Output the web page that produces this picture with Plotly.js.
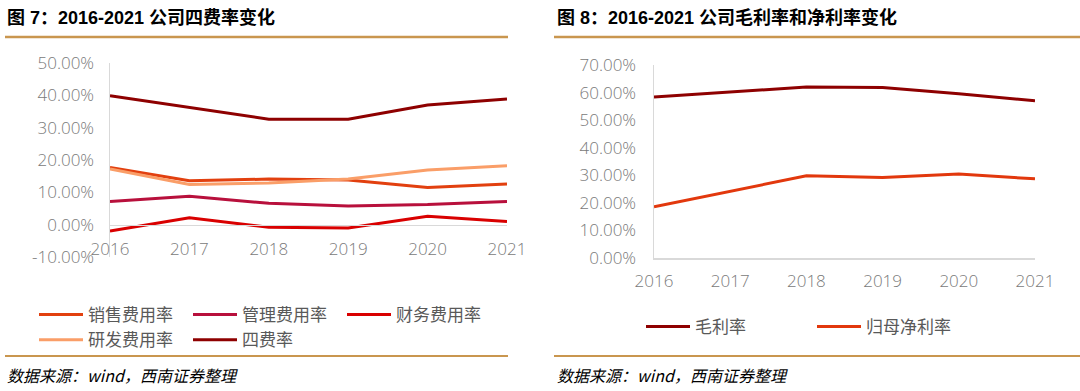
<!DOCTYPE html>
<html>
<head>
<meta charset="utf-8">
<script src="https://cdn.plot.ly/plotly-3.0.1.min.js"></script>
<style>
  html, body { margin: 0; padding: 0; background: #ffffff; }
  #wrap { position: relative; width: 1080px; height: 391px; overflow: hidden; }
  #left { position: absolute; left: 0; top: 0; width: 540px; height: 391px; }
  #right { position: absolute; left: 540px; top: 0; width: 540px; height: 391px; }
</style>
</head>
<body>
<div id="wrap"><div id="left"></div><div id="right"></div></div>
<script>
// ---------- data ----------
const years = ['2016', '2017', '2018', '2019', '2020', '2021'];
const salesRate = [17.7, 13.6, 14.1, 13.8, 11.5, 12.6];   // 销售费用率 (%)
const adminRate = [7.2, 8.8, 6.6, 5.8, 6.2, 7.2];         // 管理费用率 (%)
const financeRate = [-2.0, 2.1, -0.8, -1.0, 2.6, 1.0];    // 财务费用率 (%)
const rdRate = [17.2, 12.4, 12.9, 14.1, 16.9, 18.2];      // 研发费用率 (%)
const totalRate = [39.9, 36.3, 32.6, 32.6, 37.0, 38.9];   // 四费率 (%)
const grossMargin = [58.4, 60.3, 62.0, 61.8, 59.6, 57.0]; // 毛利率 (%)
const netMargin = [18.6, 24.3, 29.8, 29.2, 30.5, 28.7];   // 归母净利率 (%)

const leftTickVals = [-10, 0, 10, 20, 30, 40, 50];
const leftTickText = ['-10.00%', '0.00%', '10.00%', '20.00%', '30.00%', '40.00%', '50.00%'];

const leftNames = ['销售费用率', '管理费用率', '财务费用率', '研发费用率', '四费率'];
const rightNames = ['毛利率', '归母净利率'];
const leftTitle = '图 7：2016-2021 公司四费率变化';
const rightTitle = '图 8：2016-2021 公司毛利率和净利率变化';
const sourceText = '数据来源：wind，西南证券整理';

// ---------- styling ----------
const W = 540, H = 391;
const GOLD = '#C9964F';
const TICKGRAY = '#7a7a7a';
const AXISGRAY = '#d9d9d9';
const tickFont = { family: '"Open Sans", "Noto Sans", sans-serif', weight: 300, color: TICKGRAY, size: 17 };
const cjkFont = '"Noto Sans CJK SC", sans-serif';
const titleFont = { family: '"Liberation Sans", Arial, "Noto Sans CJK SC", sans-serif', size: 18, color: '#000000', weight: 'bold' };

function px2x(px, m) { return (px - m.l) / (W - m.l - m.r); }
function px2y(py, m) { return (H - m.b - py) / (H - m.t - m.b); }

function frame(m, titleText, titleX, lineX0, lineX1) {
  return {
    title: { text: titleText, font: titleFont, x: titleX / W, xanchor: 'left', y: 1 - 18 / H, yanchor: 'middle' },
    shapes: [
      { type: 'line', xref: 'paper', yref: 'paper', x0: px2x(lineX0, m), x1: px2x(lineX1, m), y0: px2y(37, m), y1: px2y(37, m), line: { color: GOLD, width: 2.5 } },
      { type: 'line', xref: 'paper', yref: 'paper', x0: px2x(lineX0, m), x1: px2x(lineX1, m), y0: px2y(356, m), y1: px2y(356, m), line: { color: GOLD, width: 2 } }
    ],
    annotations: [
      { text: sourceText, xref: 'paper', yref: 'paper', x: px2x(titleX - 2, m), y: px2y(375, m), xanchor: 'left', yanchor: 'middle', showarrow: false,
        font: { family: cjkFont, size: 16, color: '#000000', style: 'italic' } }
    ]
  };
}

// ---------- left chart ----------
const mL = { l: 110, r: 33, t: 63, b: 134, autoexpand: false };
const leftColors = ['#E2400F', '#B8103C', '#D90000', '#FA9E68', '#8E0000'];
const leftSeries = [salesRate, adminRate, financeRate, rdRate, totalRate];
const leftTraces = leftSeries.map((s, i) => ({
  type: 'scatter', mode: 'lines', x: years, y: s, name: leftNames[i],
  line: { color: leftColors[i], width: 3 }
}));
const yMinL = -10, yMaxL = 50;
const fL = frame(mL, leftTitle, 7, 5, 508);
const leftLayout = Object.assign({
  width: W, height: H, margin: mL, paper_bgcolor: '#fff', plot_bgcolor: '#fff',
  showlegend: true,
  legend: { orientation: 'h', x: px2x(34, mL), xanchor: 'left', y: px2y(297, mL), yanchor: 'top',
    itemwidth: 44, entrywidth: 95, entrywidthmode: 'pixels', font: { family: cjkFont, size: 17, color: '#595959' },
    tracegroupgap: 0, bgcolor: 'rgba(0,0,0,0)' },
  xaxis: { type: 'category', range: [0, 5], anchor: 'free', position: (0 - yMinL) / (yMaxL - yMinL),
    showline: true, linecolor: AXISGRAY, linewidth: 1.5, showgrid: false, zeroline: false, ticks: '',
    tickfont: tickFont, ticklabelstandoff: 8, fixedrange: true },
  yaxis: { range: [yMinL, yMaxL], tickmode: 'array', tickvals: leftTickVals, ticktext: leftTickText,
    showgrid: false, zeroline: false,
    showline: true, linecolor: AXISGRAY, linewidth: 1.5, ticks: '', ticklabelstandoff: 11,
    tickfont: tickFont, fixedrange: true }
}, fL);
Plotly.newPlot('left', leftTraces, leftLayout, { displayModeBar: false, staticPlot: true });

// ---------- right chart ----------
const mR = { l: 114, r: 45, t: 65, b: 133, autoexpand: false };
const rightColors = ['#8E0000', '#E2380D'];
const rightSeries = [grossMargin, netMargin];
const rightTraces = rightSeries.map((s, i) => ({
  type: 'scatter', mode: 'lines', x: years, y: s, name: rightNames[i],
  line: { color: rightColors[i], width: 3 }
}));
const fR = frame(mR, rightTitle, 17, 14, 540);
const rightLayout = Object.assign({
  width: W, height: H, margin: mR, paper_bgcolor: '#fff', plot_bgcolor: '#fff',
  showlegend: true,
  legend: { orientation: 'h', x: px2x(101, mR), xanchor: 'left', y: px2y(309, mR), yanchor: 'top',
    itemwidth: 44, entrywidth: 112, entrywidthmode: 'pixels', font: { family: cjkFont, size: 17, color: '#595959' },
    bgcolor: 'rgba(0,0,0,0)' },
  xaxis: { type: 'category', range: [0, 5], showline: true, linecolor: AXISGRAY, linewidth: 1.5, showgrid: false,
    zeroline: false, ticks: '', tickfont: tickFont, ticklabelstandoff: 7, fixedrange: true },
  yaxis: { range: [0, 70], dtick: 10, tickformat: '.2f', ticksuffix: '%', showgrid: false, zeroline: false,
    showline: true, linecolor: AXISGRAY, linewidth: 1.5, ticks: '', ticklabelstandoff: 13,
    tickfont: tickFont, fixedrange: true }
}, fR);
Plotly.newPlot('right', rightTraces, rightLayout, { displayModeBar: false, staticPlot: true });
</script>
</body>
</html>
